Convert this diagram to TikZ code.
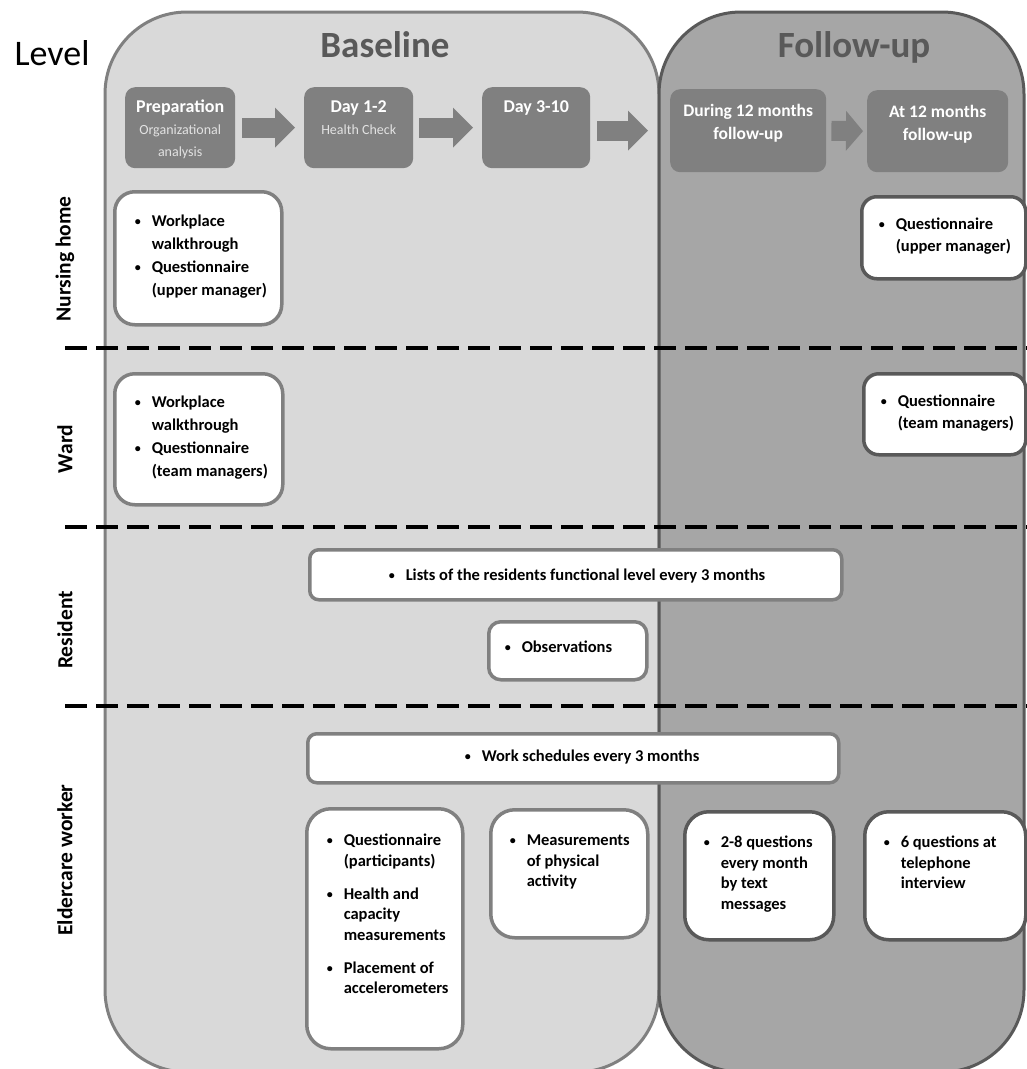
\documentclass[tikz,border=0pt]{standalone}
\usepackage{fontspec}
\setmainfont{Carlito}
\usepackage{xcolor}
\usetikzlibrary{arrows.meta,calc,positioning}
\definecolor{paneA}{HTML}{D9D9D9}
\definecolor{paneB}{HTML}{A6A6A6}
\definecolor{edgeA}{HTML}{808080}
\definecolor{edgeB}{HTML}{595959}
\definecolor{hdrgray}{HTML}{808080}
\definecolor{subgray}{HTML}{E2E2E2}
\definecolor{ttlgray}{HTML}{595959}
% box contents: width, height, text (top aligned)
\newcommand{\tbox}[3]{\parbox[c][#2][t]{#1}{#3}}
\newcommand{\bfmt}[3]{\raggedright\leftskip=#2\fontsize{16.5}{#3}\selectfont\bfseries\vspace*{#1}}
\newcommand{\bdot}{\raisebox{1.2pt}{\fontsize{12}{12}\selectfont\textbullet}}
\newcommand{\bitem}[1]{\par\noindent\hangindent=18pt\hangafter=1\makebox[18pt][l]{\hspace{1pt}\bdot}\rule{0pt}{13pt}#1\par}
\newcommand{\igap}{\vspace{12.5pt}}
\newcommand{\hbig}{\fontsize{18}{22}\selectfont\bfseries}
\newcommand{\hsml}{\fontsize{14}{22}\selectfont\mdseries\color{subgray}}
\newcommand{\hmid}{\fontsize{17.5}{23.5}\selectfont\bfseries}
\tikzset{%
	hdr/.style    = {fill=hdrgray, rounded corners=10pt, inner sep=0pt, anchor=north west, text=white},
	wbox/.style   = {fill=white, line width=3.5pt, inner sep=0pt, anchor=north west},
	basebox/.style= {wbox, draw=edgeA},
	fubox/.style  = {wbox, draw=edgeB},
	barrow/.style = {draw=hdrgray, line width=20pt, -{Triangle[width=40pt, length=20pt, line width=0pt]}},
	lvl/.style    = {font=\fontsize{21.5}{26}\selectfont\bfseries, rotate=90},
	ttl/.style    = {font=\fontsize{37}{44}\selectfont\bfseries, text=ttlgray, anchor=base},
	sep/.style    = {line width=3.3pt, dash pattern=on 22pt off 9pt},
}
\begin{document}
\begin{tikzpicture}[x=1pt,y=-1pt]
	\useasboundingbox (0,0) rectangle (1027,1069);
	\clip (0,0) rectangle (1027,1069);
	
	% the two phases
	\draw[fill=paneA, draw=edgeA, line width=3pt, rounded corners=82pt] (105,12) rectangle (659,1072);
	\draw[fill=paneB, draw=edgeB, line width=3pt, rounded corners=82pt] (659,12) rectangle (1024,1072);
	
	\node[font=\fontsize{36}{42}\selectfont, anchor=base east] (tlevel) at (93,65) {Level};
	\node[ttl] (tbase) at (385,57) {Baseline};
	\node[ttl] (tfu) at (854,57) {Follow-up};
	
	% time line
	\node[hdr] (prep) at (125,87) {\tbox{110pt}{81pt}{\centering\vspace*{12pt}\hbig\rule{0pt}{13pt}Preparation\par{\hsml Organizational\par analysis\par}}};
	\node[hdr] (day12) at (304,87) {\tbox{109pt}{81pt}{\centering\vspace*{12pt}\hbig\rule{0pt}{13pt}Day 1-2\par{\hsml Health Check\par}}};
	\node[hdr] (day310) at (482,87) {\tbox{108pt}{81pt}{\centering\vspace*{12pt}\hbig\rule{0pt}{13pt}Day 3-10\par}};
	\node[hdr] (during) at (670,89) {\tbox{156pt}{83pt}{\centering\vspace*{14pt}\hmid\rule{0pt}{13pt}During 12 months\par follow-up\par}};
	\node[hdr] (at12) at (867,90) {\tbox{141pt}{82pt}{\centering\vspace*{14pt}\hmid\rule{0pt}{13pt}At 12 months\par follow-up\par}};
	
	\draw[barrow, shorten <=7pt, shorten >=9pt] (prep.east) -- (day12.west);
	\draw[barrow, shorten <=6pt, shorten >=9pt] (day12.east) -- (day310.west);
	\draw[barrow, shorten <=7pt, shorten >=22pt] (day310.east |- during.west) -- (during.west);
	\draw[barrow, -{Triangle[width=40pt, length=17pt, line width=0pt]}, shorten <=5pt, shorten >=4pt] (during.east) -- (at12.west);
	
	% level separators
	\draw[sep] (65,348) -- (1027,348);
	\draw[sep] (65,527) -- (1027,527);
	\draw[sep] (65,706) -- (1027,706);
	
	\node[lvl] (lvlnh) at (65,259) {Nursing home};
	\node[lvl] (lvlward) at (65,449) {Ward};
	\node[lvl] (lvlres) at (65,630) {Resident};
	\node[lvl] (lvlwork) at (65,860) {Eldercare worker};
	
	% nursing home
	\node[basebox, rounded corners=20pt] (nhbase) at (113,190) {\tbox{167pt}{133pt}{\bfmt{22pt}{19pt}{23pt}%
		\bitem{Workplace\newline walkthrough}\bitem{Questionnaire\newline (upper manager)}}};
	\node[fubox, rounded corners=15pt] (nhfu) at (860,195) {\tbox{164pt}{82pt}{\bfmt{20pt}{16pt}{22pt}%
		\bitem{Questionnaire\newline (upper manager)}}};
	
	% ward
	\node[basebox, rounded corners=20pt] (wardbase) at (113,372) {\tbox{168pt}{131pt}{\bfmt{21pt}{19pt}{23pt}%
		\bitem{Workplace\newline walkthrough}\bitem{Questionnaire\newline (team managers)}}};
	\node[fubox, rounded corners=15pt] (wardfu) at (862,372) {\tbox{162pt}{81pt}{\bfmt{20pt}{16pt}{22pt}%
		\bitem{Questionnaire\newline (team managers)}}};
	
	% resident
	\node[basebox, rounded corners=9pt] (lists) at (308,548) {\tbox{532pt}{50pt}{\bfmt{18pt}{78pt}{22pt}%
		\bitem{Lists of the residents functional level every 3 months}}};
	\node[basebox, rounded corners=12pt] (obs) at (487,620) {\tbox{158pt}{58pt}{\bfmt{18pt}{15pt}{22pt}%
		\bitem{Observations}}};
	
	% eldercare worker
	\node[basebox, rounded corners=9pt] (work) at (306,732) {\tbox{531pt}{49pt}{\bfmt{15pt}{156pt}{22pt}%
		\bitem{Work schedules every 3 months}}};
	\node[basebox, rounded corners=24pt] (qpart) at (305,807) {\tbox{156pt}{240pt}{\bfmt{24pt}{19pt}{20.5pt}%
		\bitem{Questionnaire\newline (participants)}\igap
		\bitem{Health and\newline capacity\newline measurements}\igap
		\bitem{Placement of\newline accelerometers}}};
	\node[basebox, rounded corners=24pt] (meas) at (489,808) {\tbox{157pt}{128pt}{\bfmt{23pt}{18pt}{20.5pt}%
		\bitem{Measurements\newline of physical\newline activity}}};
	\node[fubox, rounded corners=24pt] (texts) at (683,810) {\tbox{149pt}{128pt}{\bfmt{23pt}{18pt}{20.5pt}%
		\bitem{2-8 questions\newline every month\newline by text\newline messages}}};
	\node[fubox, rounded corners=24pt] (phone) at (863,810) {\tbox{161pt}{128pt}{\bfmt{23pt}{18pt}{20.5pt}%
		\bitem{6 questions at\newline telephone\newline interview}}};
\end{tikzpicture}
\end{document}
